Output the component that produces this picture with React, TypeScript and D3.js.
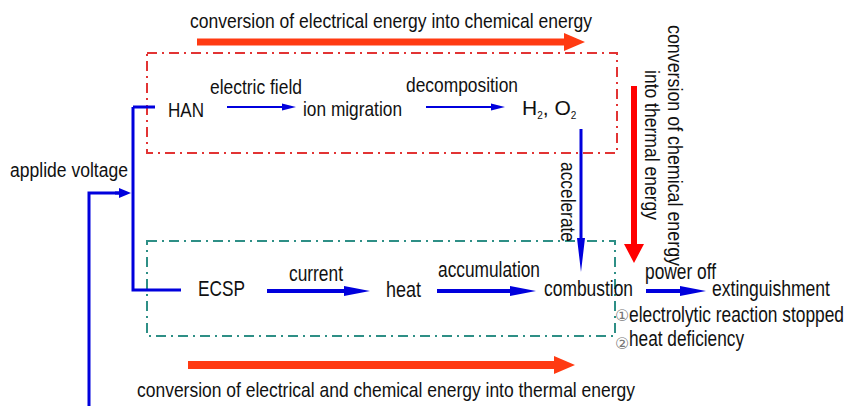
import React from "react";
import * as d3 from "d3";

// ---- content (text) ----
const topTitle = "conversion of electrical energy into chemical energy";
const bottomTitle = "conversion of electrical and chemical energy into thermal energy";
const sideTitle = ["conversion of chemical energy", "into thermal energy"];
const hanRow = ["HAN", "ion migration"];
const hanEdges = ["electric field", "decomposition"];
const ecspRow = ["ECSP", "heat", "combustion", "extinguishment"];
const ecspEdges = ["current", "accumulation", "power off"];
const notes = ["electrolytic reaction stopped", "heat deficiency"];
const noteMarks = ["\u2460", "\u2461"];
const inputLabel = "applide voltage";
const accelLabel = "accelerate";

// ---- layout ----
const W = 846, H = 406;
const FONT = "'Liberation Sans Narrow', 'Arial Narrow', 'Liberation Sans', Arial, sans-serif";
const BLUE = "#0000dd";
const ORANGE = "#ff3a12";
const RED = "#ff0000";

function arrowPath(x0: number, y0: number, x1: number, y1: number, shaft: number, headLen: number, headHalf: number) {
  const dx = x1 - x0, dy = y1 - y0;
  const L = Math.hypot(dx, dy);
  const ux = dx / L, uy = dy / L;
  const nx = -uy, ny = ux;
  const bx = x1 - ux * headLen, by = y1 - uy * headLen;
  const s = shaft / 2;
  const p = d3.path();
  p.moveTo(x0 + nx * s, y0 + ny * s);
  p.lineTo(bx + nx * s, by + ny * s);
  p.lineTo(bx + nx * headHalf, by + ny * headHalf);
  p.lineTo(x1, y1);
  p.lineTo(bx - nx * headHalf, by - ny * headHalf);
  p.lineTo(bx - nx * s, by - ny * s);
  p.lineTo(x0 - nx * s, y0 - ny * s);
  p.closePath();
  return p.toString();
}

const T = (props: { x: number; y: number; w?: number; fs?: number; children: React.ReactNode; fill?: string; transform?: string }) => (
  <text
    x={props.x}
    y={props.y}
    fontSize={props.fs ?? 20}
    fontFamily={FONT}
    fill={props.fill ?? "#111"}
    textLength={props.w}
    lengthAdjust={props.w ? "spacingAndGlyphs" : undefined}
    transform={props.transform}
  >
    {props.children}
  </text>
);

export default function App() {
  React.useEffect(() => {
    document.body.style.margin = "0";
  }, []);

  const hanPos = [
    { x: 168, y: 117, w: 36 },
    { x: 303, y: 116, w: 99 },
  ];
  const hanEdgePos = [
    { x: 210, y: 94, w: 92, a0: 227, a1: 296 },
    { x: 406, y: 92, w: 112, a0: 426, a1: 505 },
  ];
  const ecspPos = [
    { x: 198, y: 296, w: 47 },
    { x: 386, y: 297, w: 35 },
    { x: 544, y: 296, w: 89 },
    { x: 712, y: 296, w: 118 },
  ];
  const ecspEdgePos = [
    { x: 289, y: 281, w: 54, a0: 267, a1: 370 },
    { x: 438, y: 277, w: 102, a0: 437, a1: 536 },
    { x: 645, y: 279, w: 71, a0: 646, a1: 706 },
  ];
  const notePos = [
    { y: 322, my: 321, w: 215 },
    { y: 346, my: 349, w: 115 },
  ];

  return (
    <svg width={W} height={H} viewBox={`0 0 ${W} ${H}`} style={{ display: "block", background: "#fff" }}>
      <rect x={0} y={0} width={W} height={H} fill="#fff" />

      {/* dash-dot boxes */}
      <rect x={147} y={53} width={470} height={100} fill="none" stroke="#e23434" strokeWidth={2} strokeDasharray="10,5,2,5" />
      <rect x={147} y={241} width={468} height={95} fill="none" stroke="#2e8f86" strokeWidth={2} strokeDasharray="10,5,2,5" />

      {/* top energy arrow */}
      <T x={190} y={28} w={402} fs={21}>{topTitle}</T>
      <path d={arrowPath(197, 42, 585, 42, 7, 21, 9)} fill={ORANGE} />

      {/* bottom energy arrow */}
      <path d={arrowPath(188, 365, 575, 365, 8, 21, 9)} fill={ORANGE} />
      <T x={137} y={397} w={498} fs={21}>{bottomTitle}</T>

      {/* vertical red arrow & side text */}
      <path d={arrowPath(634, 86, 634, 263, 6, 19, 10)} fill={RED} />
      <T x={0} y={0} w={241} fs={21} transform="translate(668,25) rotate(90)">{sideTitle[0]}</T>
      <T x={0} y={0} w={150} fs={21} transform="translate(645,70) rotate(90)">{sideTitle[1]}</T>

      {/* HAN row */}
      {hanRow.map((t, i) => (
        <T key={t} x={hanPos[i].x} y={hanPos[i].y} w={hanPos[i].w} fs={21}>{t}</T>
      ))}
      <text x={522} y={115} fontSize={21} fontFamily={FONT} fill="#111">
        H<tspan fontSize={10} dy={4}>2</tspan>
        <tspan dy={-4}>, O</tspan>
        <tspan fontSize={10} dy={4}>2</tspan>
      </text>
      {hanEdges.map((t, i) => (
        <g key={t}>
          <T x={hanEdgePos[i].x} y={hanEdgePos[i].y} w={hanEdgePos[i].w} fs={21}>{t}</T>
          <path d={arrowPath(hanEdgePos[i].a0, 107, hanEdgePos[i].a1, 107, 2, 14, 3.5)} fill={BLUE} />
        </g>
      ))}

      {/* accelerate */}
      <path d={arrowPath(581, 129, 581, 272, 3, 34, 4)} fill={BLUE} />
      <T x={0} y={0} w={80} fs={21} transform="translate(561,162) rotate(90)">{accelLabel}</T>

      {/* ECSP row */}
      {ecspRow.map((t, i) => (
        <T key={t} x={ecspPos[i].x} y={ecspPos[i].y} w={ecspPos[i].w} fs={22}>{t}</T>
      ))}
      {ecspEdges.map((t, i) => (
        <g key={t}>
          <T x={ecspEdgePos[i].x} y={ecspEdgePos[i].y} w={ecspEdgePos[i].w} fs={22}>{t}</T>
          <path d={arrowPath(ecspEdgePos[i].a0, 291, ecspEdgePos[i].a1, 291, 4, 26, 5)} fill={BLUE} />
        </g>
      ))}

      {/* notes */}
      {notes.map((t, i) => (
        <g key={t}>
          <text x={615} y={notePos[i].my} fontSize={16} fontFamily="'DejaVu Sans', sans-serif" fill="#777">{noteMarks[i]}</text>
          <T x={629} y={notePos[i].y} w={notePos[i].w} fs={22}>{t}</T>
        </g>
      ))}

      {/* voltage input */}
      <T x={10} y={177} w={118} fs={20}>{inputLabel}</T>
      <path d={`M133,107 H155 M133,107 V290 H181`} fill="none" stroke={BLUE} strokeWidth={3} />
      <path d={`M89,406 V193 H120`} fill="none" stroke={BLUE} strokeWidth={3} />
      <path d={arrowPath(115, 193, 131, 193, 3, 12, 5)} fill={BLUE} />
    </svg>
  );
}
